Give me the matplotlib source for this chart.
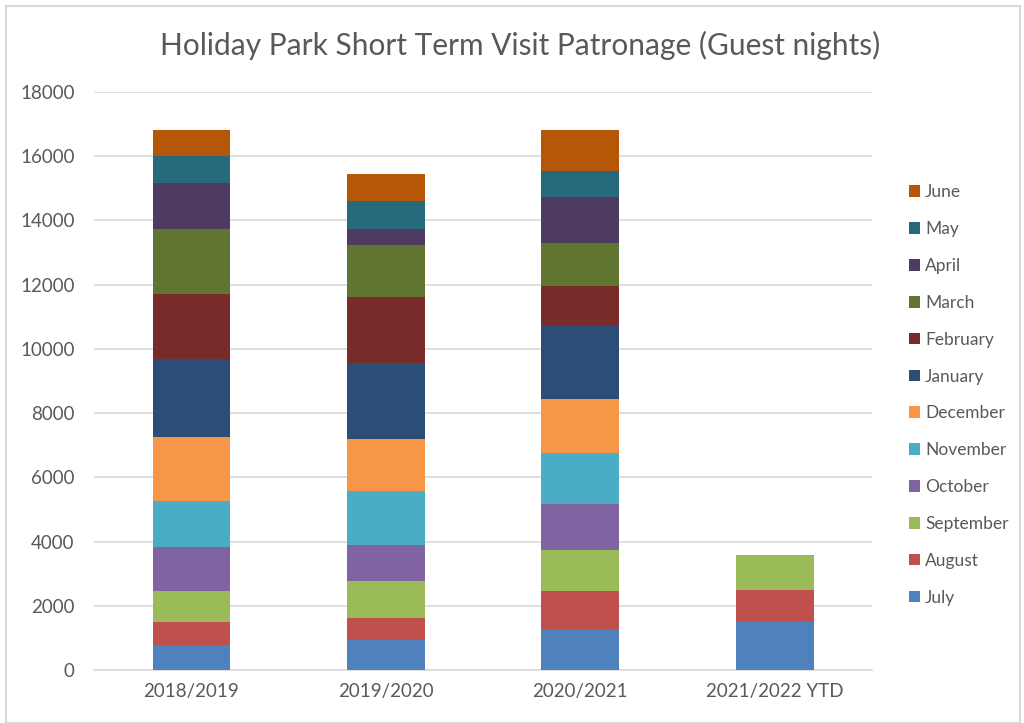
import matplotlib
matplotlib.use("Agg")
import matplotlib.pyplot as plt
from matplotlib.patches import Rectangle
import numpy as np

plt.rcParams['font.family'] = ['Lato', 'DejaVu Sans']

seasons = ["2018/2019", "2019/2020", "2020/2021", "2021/2022 YTD"]
months = ["July", "August", "September", "October", "November", "December",
          "January", "February", "March", "April", "May", "June"]

july      = [780, 930, 1250, 1500]
august    = [700, 690, 1220, 1000]
september = [970, 1160, 1260, 1090]
october   = [1380, 1110, 1430, 0]
november  = [1440, 1680, 1610, 0]
december  = [1970, 1620, 1660, 0]
january   = [2430, 2380, 2280, 0]
february  = [2050, 2040, 1240, 0]
march     = [2000, 1630, 1350, 0]
april     = [1450, 480, 1420, 0]
may       = [830, 870, 830, 0]
june      = [800, 840, 1250, 0]

series = [july, august, september, october, november, december,
          january, february, march, april, may, june]
colors = ["#4F81BD", "#C0504D", "#9BBB59", "#8064A2", "#4BACC6", "#F79646",
          "#2C4D75", "#772C2A", "#5F7530", "#4D3B62", "#276A7C", "#B65708"]

fig = plt.figure(figsize=(10.24, 7.23), dpi=100)
ax = fig.add_axes([0.092, 0.0733, 0.7596, 0.7997])

x = np.arange(len(seasons))
bottom = np.zeros(len(seasons))
handles = []
for vals, col, name in zip(series, colors, months):
    v = np.array(vals, dtype=float)
    h = ax.bar(x, v, width=0.4, bottom=bottom, color=col, label=name, zorder=3)
    handles.append(h)
    bottom += v

ax.set_xlim(-0.5, len(seasons) - 0.5)
ax.set_ylim(0, 18000)
ax.set_yticks(np.arange(0, 18001, 2000))
ax.set_xticks(x)
ax.set_xticklabels(seasons)
ax.yaxis.grid(True, color="#D9D9D9", linewidth=1.2, zorder=0)
ax.set_axisbelow(True)
for s in ["top", "right", "left"]:
    ax.spines[s].set_visible(False)
ax.spines["bottom"].set_color("#D9D9D9")
ax.spines["bottom"].set_linewidth(1.2)
ax.tick_params(axis="both", length=0, labelsize=13.5, labelcolor="#595959")
ax.tick_params(axis="y", pad=14)
ax.tick_params(axis="x", pad=9)

fig.text(0.508, 0.937, "Holiday Park Short Term Visit Patronage (Guest nights)",
         ha="center", va="center", fontsize=21.5, color="#595959")

leg = fig.legend(handles[::-1], months[::-1], loc="center left",
                 bbox_to_anchor=(0.872, 0.4537), frameon=False,
                 fontsize=12.5, handlelength=0.65, handleheight=0.65,
                 handletextpad=0.3, labelspacing=1.2)
for t in leg.get_texts():
    t.set_color("#595959")

fig.patches.append(Rectangle((0.006, 0.0), 0.99, 0.992, transform=fig.transFigure,
                             fill=False, edgecolor="#D9D9D9", linewidth=1.5))

fig.savefig("out.png", dpi=100)
